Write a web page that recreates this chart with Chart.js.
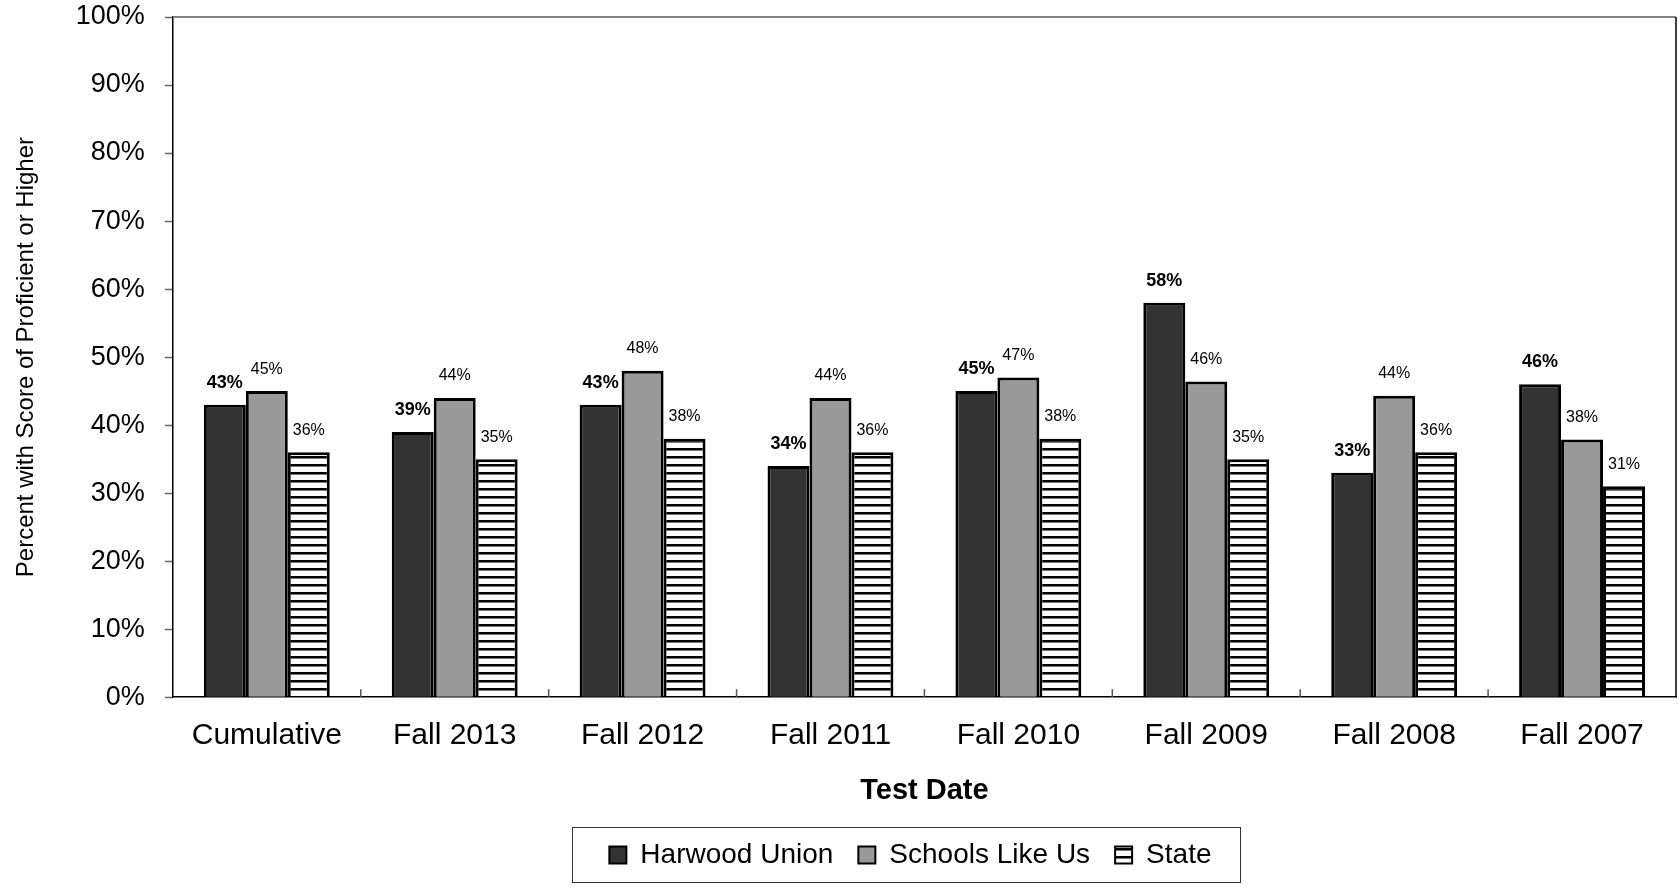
<!DOCTYPE html>
<html>
<head>
<meta charset="utf-8">
<script src="https://cdn.jsdelivr.net/npm/chart.js@4.4.1/dist/chart.umd.min.js"></script>
<style>
  html, body { margin: 0; padding: 0; background: #fff; }
  #wrap { width: 1680px; height: 890px; }
</style>
</head>
<body>
<div id="wrap"><canvas id="scoreChart" width="1680" height="890"></canvas></div>
<script>
const categories = ["Cumulative", "Fall 2013", "Fall 2012", "Fall 2011", "Fall 2010", "Fall 2009", "Fall 2008", "Fall 2007"];
const harwood = [43, 39, 43, 34, 45, 58, 33, 46];
const schoolsLikeUs = [45, 44, 48, 44, 47, 46.4, 44.3, 37.9];
const stateAvg = [36, 35, 38, 36, 38, 35, 36, 31];
const yTicks = [0, 10, 20, 30, 40, 50, 60, 70, 80, 90, 100];

const FONT = "'Liberation Sans', Arial, sans-serif";

// horizontal stripe fill for the State bars
function stripes() {
  const c = document.createElement("canvas");
  c.width = 8;
  c.height = 8;
  const g = c.getContext("2d");
  g.fillStyle = "#fff";
  g.fillRect(0, 0, 8, 8);
  g.fillStyle = "#000";
  g.fillRect(0, 0, 8, 2);
  g.fillStyle = "#777";
  g.fillRect(0, 2, 8, 1);
  return g.createPattern(c, "repeat");
}

const ctx = document.getElementById("scoreChart").getContext("2d");

const frame = {
  id: "frame",
  afterLayout(chart) {
    // legend sits a bit left of the plot centre
    chart.legend.left -= 14;
    chart.legend.right -= 14;
  },
  afterDatasetsDraw(chart) {
    const a = chart.chartArea;
    const x = chart.scales.x;
    const g = chart.ctx;
    g.save();
    // top line and right border
    g.strokeStyle = "#808080";
    g.lineWidth = 2;
    g.beginPath();
    g.moveTo(a.left, a.top);
    g.lineTo(a.right, a.top);
    g.stroke();
    g.strokeStyle = "#000";
    g.lineWidth = 1.5;
    g.beginPath();
    g.moveTo(a.right, a.top);
    g.lineTo(a.right, a.bottom);
    g.stroke();
    // short inward ticks between categories
    g.strokeStyle = "#555";
    g.lineWidth = 1.5;
    for (let i = 1; i < categories.length; i++) {
      const px = (x.getPixelForTick(i - 1) + x.getPixelForTick(i)) / 2;
      g.beginPath();
      g.moveTo(px, a.bottom);
      g.lineTo(px, a.bottom - 8);
      g.stroke();
    }
    // value labels
    g.fillStyle = "#000";
    g.textAlign = "center";
    g.textBaseline = "middle";
    chart.data.datasets.forEach((ds, di) => {
      g.font = (di === 0 ? "bold 18px " : "16px ") + FONT;
      chart.getDatasetMeta(di).data.forEach((bar, i) => {
        g.fillText(Math.round(ds.data[i]) + "%", bar.x, bar.y - 22);
      });
    });
    // legend frame
    const lg = chart.legend;
    if (lg && lg.legendHitBoxes.length) {
      const hb = lg.legendHitBoxes;
      const left = hb[0].left - 37;
      const right = hb[hb.length - 1].left + hb[hb.length - 1].width + 29;
      const mid = hb[0].top + hb[0].height / 2;
      g.strokeStyle = "#333";
      g.lineWidth = 1;
      g.strokeRect(Math.round(left) + 0.5, Math.round(mid - 28) + 0.5, Math.round(right - left), 55);
    }
    g.restore();
  }
};

new Chart(ctx, {
  type: "bar",
  data: {
    labels: categories,
    datasets: [
      { label: "Harwood Union", data: harwood, backgroundColor: "#333333", borderColor: "#000", borderWidth: 3 },
      { label: "Schools Like Us", data: schoolsLikeUs, backgroundColor: "#999999", borderColor: "#000", borderWidth: 3 },
      { label: "State", data: stateAvg, backgroundColor: stripes(), borderColor: "#000", borderWidth: 3 }
    ]
  },
  options: {
    responsive: false,
    animation: false,
    layout: { padding: { top: 0, right: 4, bottom: 11, left: 0 } },
    datasets: { bar: { categoryPercentage: 0.67, barPercentage: 1.0 } },
    scales: {
      x: {
        grid: { display: false },
        border: { display: true, color: "#000", width: 1.5 },
        ticks: { color: "#000", padding: 13, font: { family: FONT, size: 30 } },
        title: {
          display: true, text: "Test Date", color: "#000",
          font: { family: FONT, size: 29, weight: "bold" },
          padding: { top: 6, bottom: 8 }
        }
      },
      y: {
        min: 0, max: 100,
        afterBuildTicks: (s) => { s.ticks = yTicks.map(v => ({ value: v })); },
        afterFit: (s) => { s.paddingTop = 17; },
        grid: { drawOnChartArea: false, tickLength: 8, tickColor: "#666", tickWidth: 1.5 },
        border: { color: "#000", width: 1.5 },
        ticks: { color: "#000", padding: 20, font: { family: FONT, size: 27 }, callback: (v) => v + "%" },
        title: {
          display: true, text: "Percent with Score of Proficient or Higher", color: "#000",
          font: { family: FONT, size: 24 },
          padding: { top: 12, bottom: 15 }
        }
      }
    },
    plugins: {
      legend: {
        position: "bottom",
        fullSize: false,
        labels: {
          color: "#000",
          font: { family: FONT, size: 28 },
          boxWidth: 17,
          boxHeight: 17,
          padding: 25,
          generateLabels(chart) {
            const items = Chart.defaults.plugins.legend.labels.generateLabels(chart);
            items.forEach(it => { it.lineWidth = 2; });
            return items;
          }
        }
      },
      tooltip: { enabled: false }
    }
  },
  plugins: [frame]
});
</script>
</body>
</html>
